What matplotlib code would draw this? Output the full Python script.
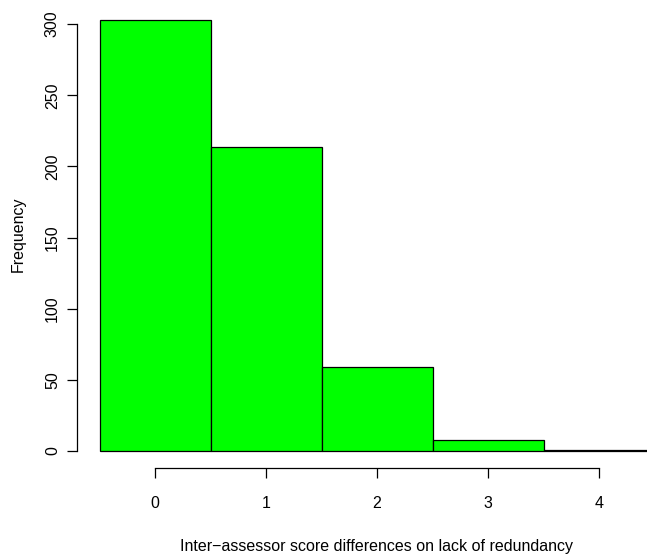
import numpy as np
import matplotlib.pyplot as plt

# histogram of inter-assessor score differences
diffs = [0, 1, 2, 3, 4]
freq = [303, 214, 59, 8, 1]
xticks = [0, 1, 2, 3, 4]
yticks = [0, 50, 100, 150, 200, 250, 300]

plt.rcParams['font.family'] = ['Liberation Sans', 'DejaVu Sans']

W, H = 647, 556
fig = plt.figure(figsize=(W/100, H/100), dpi=100)
# plot region like R: runs past the right edge of the picture
left, right, bottom, top = 77.3, 676.7, 468.3, 2.6
ax = fig.add_axes([left/W, 1-bottom/H, (right-left)/W, (bottom-top)/H])

ax.bar(diffs, freq, width=1.0, color='#00ff00', edgecolor='black', linewidth=0.9)

ax.set_xlim(-0.7, 4.7)
ax.set_ylim(-0.04*max(freq), 1.04*max(freq))
ax.set_xticks(xticks)
ax.set_yticks(yticks)
ax.set_yticklabels([str(v) for v in yticks], rotation=90, va='center')

for s in ['top', 'right']:
    ax.spines[s].set_visible(False)
ax.spines['left'].set_bounds(0, 300)
ax.spines['bottom'].set_bounds(0, 4)
for s in ['left', 'bottom']:
    ax.spines[s].set_linewidth(0.9)
ax.tick_params(length=7.5, width=0.9, labelsize=11.5)
ax.tick_params(axis='x', pad=12.5)
ax.tick_params(axis='y', pad=5)

fig.text(18/W, 1-234/H, 'Frequency', rotation=90, ha='center', va='center', fontsize=11.5)
fig.text(376/W, 1-546/H, 'Inter\u2212assessor score differences on lack of redundancy',
         ha='center', va='center', fontsize=11.5)

fig.savefig('out.png', dpi=100)
